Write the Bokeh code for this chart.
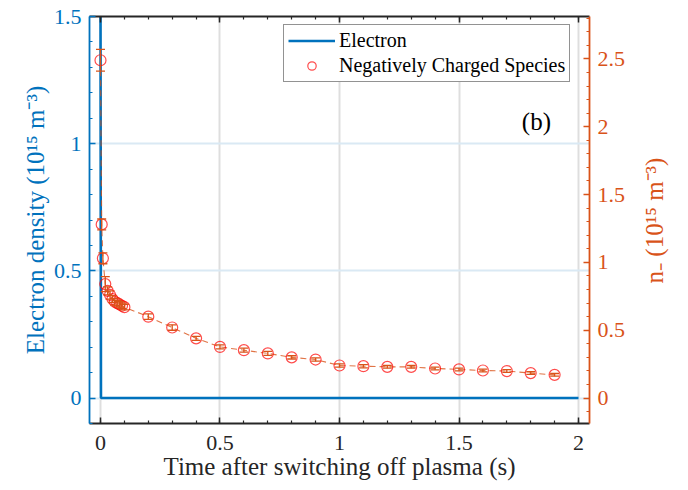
import math
from bokeh.plotting import figure
from bokeh.models import (Range1d, LinearAxis, SingleIntervalTicker, NumeralTickFormatter,
                          CustomJSTickFormatter, Whisker, TeeHead, ColumnDataSource, Legend,
                          LegendItem, Label, Grid)
from bokeh.embed import file_html
from bokeh.resources import INLINE

# ---------------- data ----------------
t_electron = [0.0, 0.002, 2.0]
n_electron = [1.6, 0.0, 0.0]

t_neg = [0.0, 0.005, 0.01, 0.02, 0.03, 0.04, 0.05, 0.06, 0.07, 0.08, 0.09, 0.10,
         0.2, 0.3, 0.4, 0.5, 0.6, 0.7, 0.8, 0.9, 1.0, 1.1, 1.2, 1.3, 1.4, 1.5,
         1.6, 1.7, 1.8, 1.9]
n_neg = [2.49, 1.28, 1.03, 0.84, 0.79, 0.76, 0.73, 0.71, 0.70, 0.69, 0.68, 0.67,
         0.60, 0.52, 0.44, 0.377, 0.353, 0.329, 0.30, 0.284, 0.240, 0.235, 0.23,
         0.23, 0.218, 0.211, 0.203, 0.199, 0.184, 0.171]
err_neg = [0.08, 0.04, 0.04, 0.055, 0.03, 0.03, 0.025, 0.025, 0.02, 0.02, 0.02, 0.02,
           0.02, 0.02, 0.015, 0.015, 0.015, 0.015, 0.012, 0.012, 0.012, 0.012, 0.01,
           0.01, 0.01, 0.01, 0.01, 0.01, 0.01, 0.01]

x_label = "Time after switching off plasma (s)"
y_left_label = "Electron density (10\u00b9\u2075 m\u207b\u00b3)"
y_right_label = "n\u208b (10\u00b9\u2075 m\u207b\u00b3)"
series_names = ["Electron", "Negatively Charged Species"]
panel_tag = "(b)"

BLUE = "#0072BD"
ORANGE = "#D95319"
DARK = "#262626"
FONT = "Liberation Serif"

p = figure(width=688, height=490, output_backend="svg", toolbar_location=None,
           x_range=Range1d(-0.046, 2.046), y_range=Range1d(-0.1, 1.5),
           x_axis_type=None, y_axis_type=None,
           min_border_left=89, min_border_right=99, min_border_top=16, min_border_bottom=67)
p.extra_y_ranges = {"n": Range1d(-0.1875, 2.8125)}
p.outline_line_color = None
p.background_fill_color = "white"
p.border_fill_color = "white"


def style_axis(ax, color):
    ax.axis_line_color = color
    ax.axis_line_width = 1.8
    ax.major_tick_line_color = color
    ax.minor_tick_line_color = color
    ax.major_tick_line_width = 1.5
    ax.minor_tick_line_width = 1.2
    ax.major_tick_in = 6
    ax.major_tick_out = 0
    ax.minor_tick_in = 3
    ax.minor_tick_out = 0
    ax.major_label_text_font = FONT
    ax.major_label_text_color = color
    ax.major_label_text_font_size = "22px"
    ax.major_label_standoff = 8
    ax.axis_label_text_font = FONT
    ax.axis_label_text_font_style = "normal"
    ax.axis_label_text_color = color
    ax.axis_label_text_font_size = "25px"


xt = SingleIntervalTicker(interval=0.5, num_minor_ticks=5)
yt = SingleIntervalTicker(interval=0.5, num_minor_ticks=5)
yt2 = SingleIntervalTicker(interval=0.5, num_minor_ticks=5)
fmt = NumeralTickFormatter(format="0.[0]")

xaxis = LinearAxis(ticker=xt, formatter=fmt, axis_label=x_label)
style_axis(xaxis, DARK)
xaxis.major_label_standoff = 12
xaxis.axis_label_standoff = 0
p.add_layout(xaxis, "below")

xtop = LinearAxis(ticker=xt, formatter=CustomJSTickFormatter(code="return ''"))
style_axis(xtop, DARK)
xtop.major_label_standoff = 0
xtop.major_label_text_font_size = "2px"
p.add_layout(xtop, "above")

yleft = LinearAxis(ticker=yt, formatter=fmt, axis_label=y_left_label)
style_axis(yleft, BLUE)
yleft.axis_label_standoff = 2
p.add_layout(yleft, "left")

yright = LinearAxis(ticker=yt2, formatter=fmt, y_range_name="n")
style_axis(yright, ORANGE)
p.add_layout(yright, "right")

p.add_layout(Grid(dimension=0, ticker=xt, grid_line_color="#DEDEDE", grid_line_width=2))
p.add_layout(Grid(dimension=1, ticker=yt, grid_line_color="#DAE9F4", grid_line_width=2))

eline = p.line(t_electron, n_electron, line_color=BLUE, line_width=2.6)

src = ColumnDataSource(dict(t=t_neg, n=n_neg,
                            upper=[a + b for a, b in zip(n_neg, err_neg)],
                            lower=[a - b for a, b in zip(n_neg, err_neg)]))
p.line("t", "n", source=src, y_range_name="n", line_color=ORANGE, line_width=1.1,
       line_dash="6 4", line_alpha=0.8)
circles = p.scatter("t", "n", source=src, y_range_name="n", marker="circle", size=11,
                    fill_color=None, line_color="#FF0000", line_alpha=0.7, line_width=1.2)
wh = Whisker(source=src, base="t", upper="upper", lower="lower", y_range_name="n",
             line_color=ORANGE, line_width=1.3,
             upper_head=TeeHead(size=9, line_color=ORANGE, line_width=1.3),
             lower_head=TeeHead(size=9, line_color=ORANGE, line_width=1.3))
wh.level = "annotation"
p.add_layout(wh)

legend = Legend(items=[LegendItem(label=series_names[0], renderers=[eline]),
                       LegendItem(label=series_names[1], renderers=[circles])],
                location=(194, 341), margin=0,
                border_line_color=DARK, border_line_width=1.2,
                background_fill_color="white", background_fill_alpha=1.0,
                label_text_font=FONT, label_text_font_size="20px", label_text_color="black",
                glyph_width=47, glyph_height=21, label_height=21, spacing=2, padding=4,
                label_standoff=4)
p.add_layout(legend)

p.add_layout(Label(x=1.824, y=1.086, text=panel_tag, text_font=FONT, text_font_size="25px",
                   text_align="center", text_baseline="middle", text_color="black"))

# right-hand axis title (reads bottom-to-top), in the right side panel
p.add_layout(Label(x=26, y=203, x_units="screen", y_units="screen", text=y_right_label,
                   angle=math.pi / 2, text_font=FONT, text_font_size="25px",
                   text_align="center", text_baseline="middle", text_color=ORANGE), "right")

open("out.html", "w").write(file_html(p, INLINE))
